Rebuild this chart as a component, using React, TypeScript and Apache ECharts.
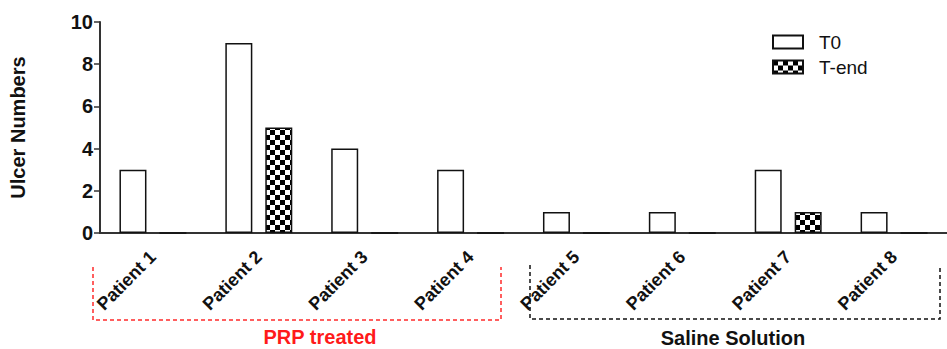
import React, { useEffect, useRef } from "react";
import * as echarts from "echarts";

const categories = ["Patient 1", "Patient 2", "Patient 3", "Patient 4", "Patient 5", "Patient 6", "Patient 7", "Patient 8"];
const t0Values = [3, 9, 4, 3, 1, 1, 3, 1];
const tEndValues = [0, 5, 0, 0, 0, 0, 1, 0];
const seriesNames = ["T0", "T-end"];
const yTitle = "Ulcer Numbers";
const groupLabels = ["PRP treated", "Saline Solution"];

const FONT = "'Liberation Sans', Arial, sans-serif";

function makeChecker(): HTMLCanvasElement {
  const s = 5;
  const c = document.createElement("canvas");
  c.width = s * 2;
  c.height = s * 2;
  const ctx = c.getContext("2d")!;
  ctx.fillStyle = "#ffffff";
  ctx.fillRect(0, 0, s * 2, s * 2);
  ctx.fillStyle = "#000000";
  ctx.fillRect(0, 0, s, s);
  ctx.fillRect(s, s, s, s);
  return c;
}

export default function App() {
  const ref = useRef<HTMLDivElement>(null);
  useEffect(() => {
    document.body.style.margin = "0";
    const chart = echarts.init(ref.current!, null, { renderer: "svg" });
    const checker = makeChecker();
    chart.setOption({
      animation: false,
      backgroundColor: "#ffffff",
      grid: { left: 95, top: 22, bottom: 116, right: -13, containLabel: false },
      legend: {
        orient: "vertical",
        left: 772,
        top: 32,
        padding: 0,
        itemWidth: 30,
        itemHeight: 13,
        itemGap: 5,
        icon: "rect",
        textStyle: { fontFamily: FONT, fontSize: 19, color: "#111", lineHeight: 20, padding: [0, 0, 0, 11] },
        data: seriesNames,
      },
      xAxis: {
        type: "category",
        data: categories,
        axisLine: { lineStyle: { color: "#333", width: 2 } },
        axisTick: { alignWithLabel: true, length: 7, lineStyle: { color: "#333", width: 1.5 } },
        axisLabel: {
          rotate: 45,
          margin: 21,
          fontFamily: FONT,
          fontWeight: "bold",
          fontSize: 18,
          color: "#111",
          interval: 0,
        },
      },
      yAxis: {
        type: "value",
        min: 0,
        max: 10,
        interval: 2,
        name: yTitle,
        nameLocation: "middle",
        nameGap: 72,
        nameTextStyle: { fontFamily: FONT, fontWeight: "bold", fontSize: 20, color: "#111" },
        splitLine: { show: false },
        axisLine: { show: true, lineStyle: { color: "#333", width: 2 } },
        axisTick: { show: true, length: 6, lineStyle: { color: "#333", width: 1.5 } },
        axisLabel: { fontFamily: FONT, fontWeight: "bold", fontSize: 20, color: "#111", margin: 7 },
      },
      series: [
        {
          name: seriesNames[0],
          type: "bar",
          data: t0Values,
          barWidth: 27,
          barGap: "48%",
          itemStyle: { color: "#ffffff", borderColor: "#111", borderWidth: 1.5 },
        },
        {
          name: seriesNames[1],
          type: "bar",
          data: tEndValues,
          barWidth: 27,
          itemStyle: { color: { image: checker, repeat: "repeat" }, borderColor: "#111", borderWidth: 1.5 },
        },
      ],
      graphic: [
        {
          type: "polyline",
          shape: { points: [[93, 267], [93, 320], [501, 320], [501, 267]] },
          style: { stroke: "#ff2a2a", lineWidth: 1.5, lineDash: [4, 3], fill: null },
        },
        {
          type: "polyline",
          shape: { points: [[530, 265], [530, 319], [940, 319], [940, 265]] },
          style: { stroke: "#111", lineWidth: 1.5, lineDash: [4, 3], fill: null },
        },
        {
          type: "text",
          x: 320,
          y: 337,
          style: {
            text: groupLabels[0],
            fill: "#ff1a1a",
            font: `bold 20px ${FONT}`,
            textAlign: "center",
            textVerticalAlign: "middle",
          },
        },
        {
          type: "text",
          x: 733,
          y: 338,
          style: {
            text: groupLabels[1],
            fill: "#111",
            font: `bold 20px ${FONT}`,
            textAlign: "center",
            textVerticalAlign: "middle",
          },
        },
      ],
    });
    return () => chart.dispose();
  }, []);
  return <div ref={ref} style={{ width: 947, height: 349 }} />;
}
